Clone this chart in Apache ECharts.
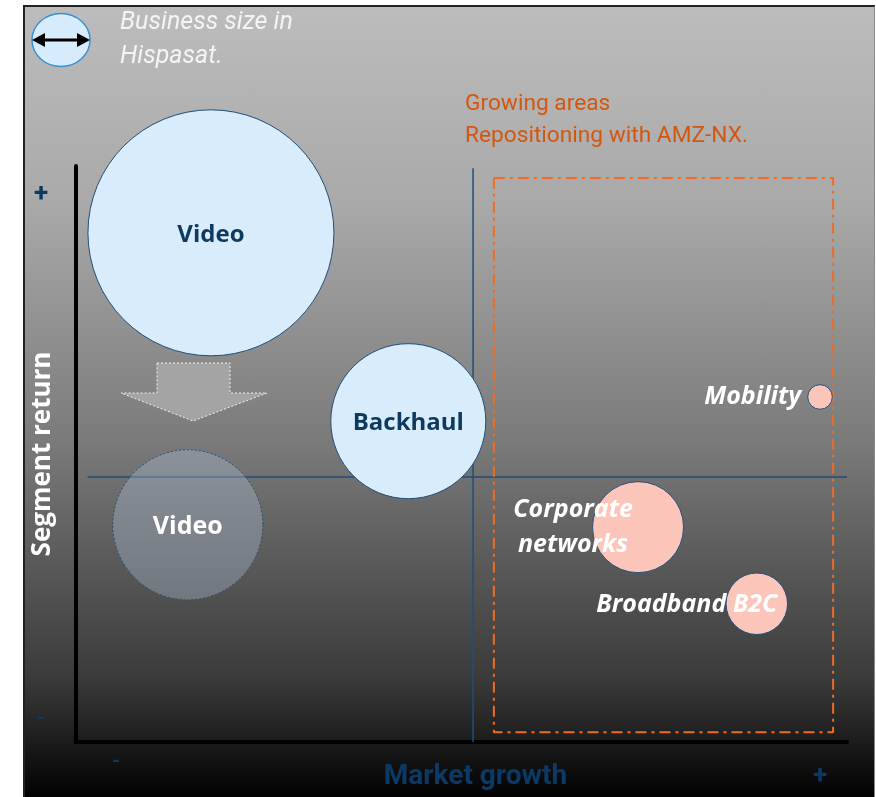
<!DOCTYPE html>
<html>
<head>
<meta charset="utf-8">
<script src="https://cdn.jsdelivr.net/npm/echarts@6/dist/echarts.min.js"></script>
<style>
  html, body { margin: 0; padding: 0; background: #fff; }
  #frame {
    position: absolute; left: 23px; top: 5px; width: 849px; height: 792px;
    border-left: 2px solid #222; border-top: 2px solid #222; border-right: 1px solid #888;
    background: linear-gradient(to bottom, #bcbcbc 0%, #a9a9a9 25%, #7a7a7a 55%, #3a3a3a 85%, #000 100%);
  }
  #chart { position: absolute; left: 0; top: 0; width: 876px; height: 797px; }
</style>
</head>
<body>
<div id="frame"></div>
<div id="chart"></div>
<script>
// segments, current position
const currentNames = ['Video', 'Backhaul']
const currentGrowth = [17.5, 43.1]
const currentReturn = [88.4, 55.7]
const currentSize = [100, 63]

// projected video position
const projectedNames = ['Video']
const projectedGrowth = [14.5]
const projectedReturn = [37.7]
const projectedSize = [61]

// growing areas
const growingNames = ['Mobility', 'Corporate\nnetworks', 'Broadband B2C']
const growingGrowth = [96.5, 72.9, 88.3]
const growingReturn = [59.9, 37.3, 24.0]
const growingSize = [10, 37, 25]

// quadrant split and growing-area box
const splitGrowth = 51.5
const splitReturn = 46.0
const boxGrowth = [54.2, 98.2]
const boxReturn = [1.7, 97.9]

const sizeScale = 2.46
const navy = '#1f4e79'

const toData = (names, xs, ys, sizes) =>
  names.map((n, i) => ({ name: n, value: [xs[i], ys[i], sizes[i]] }))

const chart = echarts.init(document.getElementById('chart'))

const boldWhiteItalic = {
  color: '#fff', fontFamily: 'Open Sans', fontWeight: 'bold', fontStyle: 'italic', fontSize: 25
}

chart.setOption({
  backgroundColor: 'transparent',
  animation: false,
  grid: { left: 76, right: 29, top: 166, bottom: 55, outerBoundsMode: 'none' },
  xAxis: {
    type: 'value', min: 0, max: 100,
    splitLine: { show: false }, axisTick: { show: false }, axisLabel: { show: false },
    axisLine: { lineStyle: { color: '#000', width: 4 } },
    name: 'Market growth', nameLocation: 'middle', nameGap: 21,
    nameTextStyle: { color: '#0b3a66', fontFamily: 'Roboto', fontWeight: 'bold', fontSize: 28, padding: [0, 0, 0, 28] }
  },
  yAxis: {
    type: 'value', min: 0, max: 100,
    splitLine: { show: false }, axisTick: { show: false }, axisLabel: { show: false },
    axisLine: { lineStyle: { color: '#000', width: 4 } },
    name: 'Segment return', nameLocation: 'middle', nameGap: 20,
    nameTextStyle: { color: '#fff', fontFamily: 'Open Sans', fontWeight: 'bold', fontSize: 26 }
  },
  graphic: [
    // legend bubble
    { type: 'ellipse', shape: { cx: 61, cy: 40, rx: 29, ry: 26.5 },
      style: { fill: '#d6ebfb', stroke: '#3a8fcf', lineWidth: 1.5 } },
    { type: 'line', shape: { x1: 42, y1: 40, x2: 80, y2: 40 }, style: { stroke: '#000', lineWidth: 3 } },
    { type: 'polygon', shape: { points: [[32, 40], [45, 33], [45, 47]] }, style: { fill: '#000' } },
    { type: 'polygon', shape: { points: [[90, 40], [77, 33], [77, 47]] }, style: { fill: '#000' } },
    { type: 'text', left: 120, top: 6, style: { text: 'Business size in\nHispasat.', fill: '#f4f4f4',
      font: 'italic 25px Roboto', lineHeight: 34 } },
    { type: 'text', left: 465, top: 88, style: { text: 'Growing areas\nRepositioning with AMZ-NX.', fill: '#d4570f',
      font: '22.7px Roboto', lineHeight: 32 } },
    // shift arrow
    { type: 'polygon', z: 1,
      shape: { points: [[157, 363], [230, 363], [230, 393], [267, 393], [193, 421], [121, 393], [157, 393]] },
      style: { fill: '#a4a4a4', stroke: '#f2f2f2', lineWidth: 1, lineDash: [2, 2] } },
    // axis end marks
    { type: 'text', x: 41, y: 194, style: { text: '+', fill: '#0b3a66', font: 'bold 26px Roboto', align: 'center', verticalAlign: 'middle' } },
    { type: 'text', x: 41, y: 719, style: { text: '-', fill: '#0b3a66', font: 'bold 20px Roboto', align: 'center', verticalAlign: 'middle' } },
    { type: 'text', x: 116, y: 762, style: { text: '-', fill: '#0b3a66', font: 'bold 20px Roboto', align: 'center', verticalAlign: 'middle' } },
    { type: 'text', x: 820, y: 776, style: { text: '+', fill: '#0b3a66', font: 'bold 26px Roboto', align: 'center', verticalAlign: 'middle' } }
  ],
  series: [
    {
      name: 'quadrants', type: 'line', symbol: 'none', z: 1,
      lineStyle: { color: navy, width: 1.5 },
      data: [[1.5, splitReturn], [100, splitReturn], null, [splitGrowth, 0], [splitGrowth, 99.6]],
      connectNulls: false
    },
    {
      name: 'growing box', type: 'line', symbol: 'none', z: 1,
      lineStyle: { color: '#f26b21', width: 2, type: [11, 5, 3, 5] },
      data: [
        [boxGrowth[0], boxReturn[1]], [boxGrowth[1], boxReturn[1]],
        [boxGrowth[1], boxReturn[0]], [boxGrowth[0], boxReturn[0]], [boxGrowth[0], boxReturn[1]]
      ]
    },
    {
      name: 'current', type: 'scatter', z: 2,
      symbolSize: v => v[2] * sizeScale,
      itemStyle: { color: '#d9ecfc', borderColor: navy, borderWidth: 1, opacity: 1 },
      label: { show: true, position: 'inside', formatter: '{b}', color: '#0d3a5e',
        fontFamily: 'Open Sans', fontWeight: 'bold', fontSize: 24, offset: [0, 2] },
      data: toData(currentNames, currentGrowth, currentReturn, currentSize)
    },
    {
      name: 'projected', type: 'scatter', z: 2,
      symbolSize: v => v[2] * sizeScale,
      itemStyle: { color: 'rgba(175,195,215,0.35)', borderColor: navy, borderWidth: 1, borderType: [2, 2], opacity: 1 },
      label: { show: true, position: 'inside', formatter: '{b}', color: '#fff',
        fontFamily: 'Open Sans', fontWeight: 'bold', fontSize: 25, offset: [0, 2] },
      data: toData(projectedNames, projectedGrowth, projectedReturn, projectedSize)
    },
    {
      name: 'growing', type: 'scatter', z: 3,
      symbolSize: v => v[2] * sizeScale,
      itemStyle: { color: '#fcc5b9', borderColor: navy, borderWidth: 1, opacity: 1 },
      label: Object.assign({ show: true, formatter: '{b}' }, boldWhiteItalic),
      data: toData(growingNames, growingGrowth, growingReturn, growingSize).map((d, i) => {
        const pos = [
          { position: 'left', distance: 6 },
          { position: 'inside', offset: [-65, 0], lineHeight: 35, align: 'center' },
          { position: 'inside', offset: [-70, 1] }
        ][i]
        return Object.assign(d, { label: pos })
      })
    }
  ]
})
</script>
</body>
</html>
